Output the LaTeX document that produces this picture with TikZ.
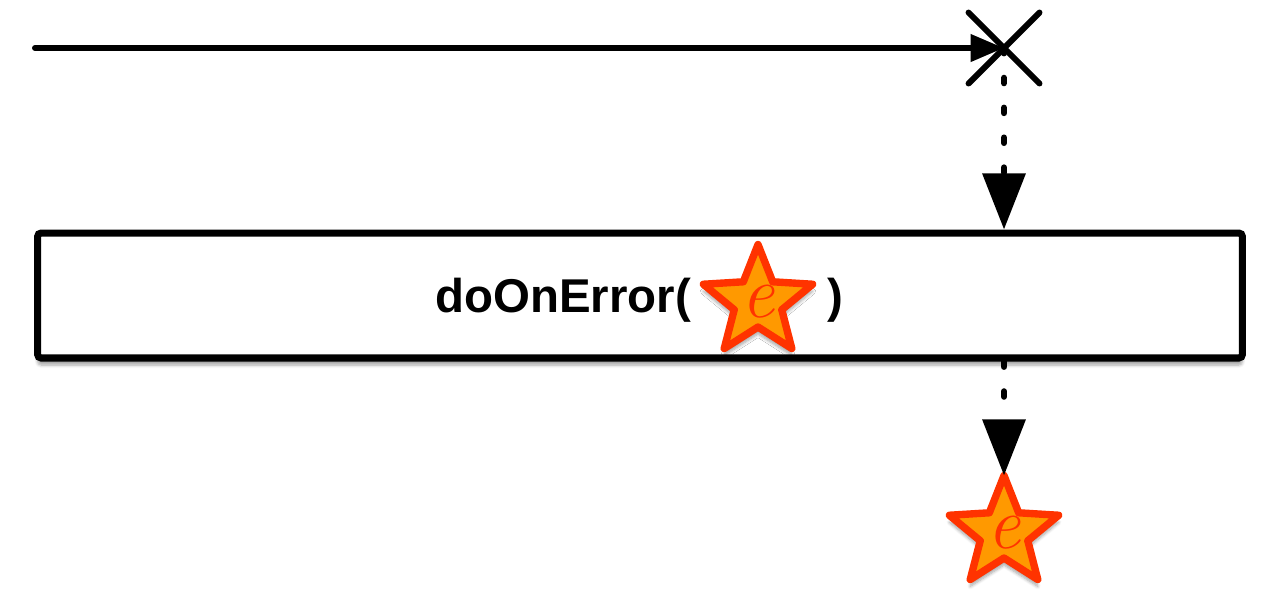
\documentclass[tikz,border=0pt]{standalone}
\usepackage{fontspec}
\setsansfont{Liberation Sans}
\usepackage{xcolor}
\usepackage{tikz}
\usetikzlibrary{arrows.meta, positioning, shapes, shadows.blur}

\definecolor{errfill}{HTML}{FF9900}
\definecolor{errline}{HTML}{FF3300}

\tikzset{
  soft/.style={blur shadow={shadow xshift=0pt, shadow yshift=-4pt, shadow blur steps=6, shadow opacity=35}},
  flow/.style={line width=3.4pt, line cap=round},
  drop/.style={line width=3.6pt, line cap=round, dash pattern=on 3pt off 14pt, -{Triangle[length=32pt,width=24pt]}},
  errmark/.style={text=errline, font=\rmfamily\itshape\fontsize{42}{42}\selectfont, inner sep=0pt},
  errstar/.style={star, star points=5, star point ratio=2.3, minimum size=2.3cm, inner sep=0pt, outer sep=0pt,
    fill=errfill, draw=errline, line width=4.2pt, line join=round, label={[errmark]center:e}},
  opbox/.style={draw, line width=4pt, rounded corners=2pt, minimum width=24.1cm, minimum height=2.5cm, fill=white},
  optext/.style={font=\sffamily\bfseries\fontsize{27}{32}\selectfont, inner sep=0pt}
}

\begin{document}
\begin{tikzpicture}[x=0.02cm, y=-0.02cm]
  \useasboundingbox (0,0) rectangle (1280,600);

  % source line ending in an error
  \node[draw, cross out, minimum size=1.3cm, inner sep=0pt, line width=3.4pt, line cap=round] (cross) at (1004,48) {};
  \coordinate (t0) at (35,48);
  \draw[flow, -{Triangle[length=19pt,width=15pt]}] (t0) -- (cross.center);

  % operator box
  \node[opbox, soft] (opbox) at (640,295.5) {};
  \node[optext] (opname) at (563,300) {doOnError(};
  \node[errstar, soft] (instar) at (758,302) {};
  \node[optext] (closep) at (835,300) {)};

  % error passed through
  \node[errstar, soft] (outstar) at (1004,533) {};
  \draw[drop] (cross.center) -- (cross |- opbox.north);
  \draw[drop] (opbox.south -| cross) -- (outstar.north);
\end{tikzpicture}
\end{document}
